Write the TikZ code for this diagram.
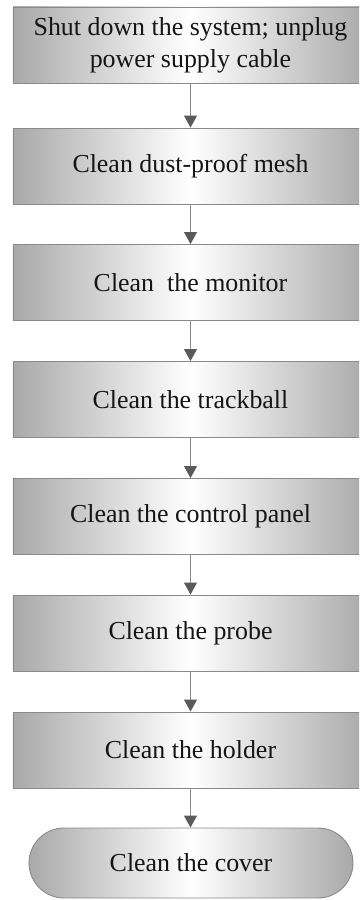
\documentclass[tikz,border=0pt]{standalone}
\usepackage{fontspec}
\setmainfont{Liberation Serif}
\usetikzlibrary{shapes.misc,arrows.meta}
\definecolor{edgegray}{HTML}{8A8A8A}
\definecolor{sidegray}{HTML}{A9A9A9}
\definecolor{headgray}{HTML}{5A5A5A}
\definecolor{txt}{HTML}{151515}
\tikzset{
  stepbox/.style={draw=edgegray, line width=0.9pt, left color=sidegray, right color=sidegray, middle color=white,
    minimum width=355bp, minimum height=76bp, inner sep=0pt, align=center,
    font=\fontsize{26}{32}\selectfont, text=txt},
  endbox/.style={stepbox, rounded rectangle, minimum width=324bp, minimum height=70bp},
  flow/.style={draw=edgegray, line width=0.9pt, -{Triangle[length=12bp,width=13bp,fill=headgray,color=headgray]}}
}
\begin{document}
\begin{tikzpicture}[x=1bp,y=-1bp]
\useasboundingbox (0,0) rectangle (359,900);
\clip (0,0) rectangle (359,900);
\node[stepbox] (s1) at (190.5,45) {Shut down the system; unplug\\power supply cable};
\node[stepbox] (s2) at (190.5,166) {Clean dust-proof mesh};
\node[stepbox] (s3) at (190.5,282.5) {Clean\ \ the monitor};
\node[stepbox] (s4) at (190.5,399.5) {Clean the trackball};
\node[stepbox] (s5) at (190.5,516.5) {Clean the control panel};
\node[stepbox] (s6) at (190.5,633) {Clean the probe};
\node[stepbox] (s7) at (190.5,750) {Clean the holder};
\node[endbox] (s8) at (191,863) {Clean the cover};
\foreach \a/\b in {s1/s2,s2/s3,s3/s4,s4/s5,s5/s6,s6/s7,s7/s8}{
  \draw[flow] (\a.south) -- (\a.south |- \b.north);
}
\end{tikzpicture}
\end{document}
